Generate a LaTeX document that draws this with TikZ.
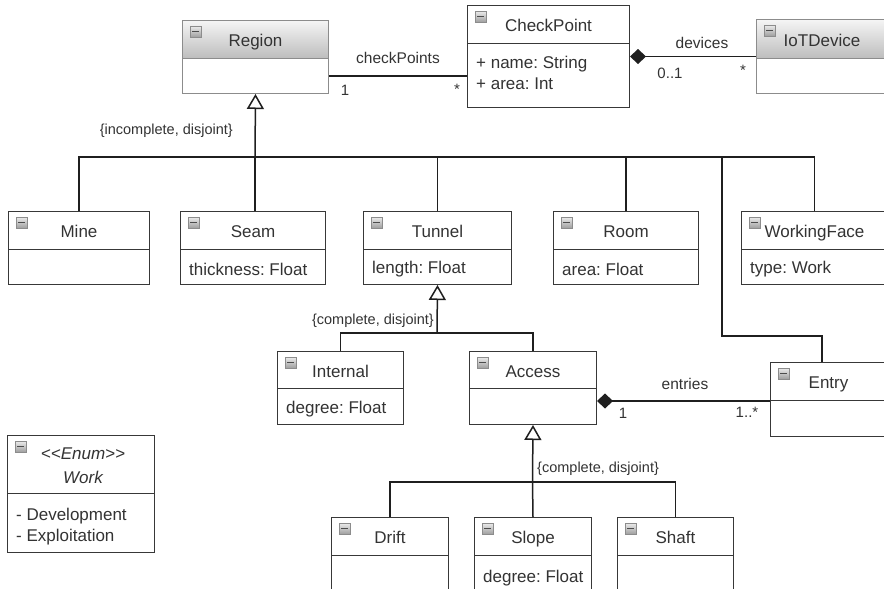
\documentclass[tikz,border=0pt]{standalone}
\usepackage{fontspec}
\setmainfont{Liberation Sans}
\usetikzlibrary{arrows.meta,calc}
\frenchspacing
\definecolor{txt}{HTML}{333333}
\newcommand\clsfont{\fontsize{17}{21}\selectfont}
\newcommand\lblfont{\fontsize{15.5}{18}\selectfont}
\newcommand\mulfont{\fontsize{15}{18}\selectfont}
\newcommand\consfont{\fontsize{14.5}{17}\selectfont}
\newcommand\bodyshift{-2.5pt}
\tikzset{
  box/.style={line width=1pt, inner sep=0pt, anchor=north west, text=txt, font=\clsfont},
  hdrgray/.style={draw=black!45, top color=black!4, bottom color=black!26},
  hdrgray body/.style={draw=black!45, fill=white},
  hdrwhite/.style={draw=black!78, fill=white},
  hdrwhite body/.style={draw=black!78, fill=white},
  bodytext/.style={anchor=west, align=left, inner sep=0pt, text=txt, font=\clsfont},
  icon/.style={anchor=north west, minimum width=11pt, minimum height=11pt, inner sep=0pt,
    draw=black!45, top color=black!8, bottom color=black!38,
    path picture={\draw[line width=1.4pt, black!70]
      ($(path picture bounding box.west)+(2pt,0)$) -- ($(path picture bounding box.east)+(-2pt,0)$);}},
  line/.style={draw=black!88, line width=1.5pt},
  gen/.style={line, -{Triangle[open, length=15pt, width=17pt, fill=white]}},
  comp/.style={line, {Diamond[length=16pt, width=15pt]}-},
  lbl/.style={text=txt, font=\lblfont, inner sep=0pt},
  mul/.style={text=txt, font=\mulfont, inner sep=0pt},
  cons/.style={text=txt, font=\consfont, inner sep=0pt},
}
% name, x1, y1, x2, ymid, y2, title, body, header style
\newcommand\umlcls[9]{%
  \pgfmathsetmacro\clsw{#4-#2}%
  \pgfmathsetmacro\clsh{#5-#3}%
  \pgfmathsetmacro\clsb{#6-#5}%
  \node[box, #9, minimum width=\clsw pt, minimum height=\clsh pt, text height=14pt, text depth=0pt] (#1) at (#2,#3) {#7};
  \node[box, #9 body, minimum width=\clsw pt, minimum height=\clsb pt] (#1b) at (#2,#5) {};
  \node[bodytext] (#1t) at ($(#1b.west)+(9pt,\bodyshift)$) {#8};
  \node[icon] (#1i) at (#2+8,#3+6) {};
}
\begin{document}
\begin{tikzpicture}[x=1pt, y=-1pt]
\clip (0,0) rectangle (884,589);
\fill[white] (0,0) rectangle (884,589);

% classes
\umlcls{region}{182}{20}{328}{58}{93}{Region}{}{hdrgray}
\renewcommand\bodyshift{2.5pt}
\umlcls{cp}{467}{5}{629}{43}{107}{CheckPoint}{+ name: String\\+ area: Int}{hdrwhite}
\renewcommand\bodyshift{-2.5pt}
\umlcls{iot}{756}{19}{887}{58}{93}{IoTDevice}{}{hdrgray}
\umlcls{mine}{8}{211}{149}{249}{284}{Mine}{}{hdrwhite}
\umlcls{seam}{180}{211}{325}{249}{284}{Seam}{thickness: Float}{hdrwhite}
\umlcls{tunnel}{363}{211}{511}{249}{284}{Tunnel}{length: Float}{hdrwhite}
\umlcls{room}{553}{211}{698}{249}{284}{Room}{area: Float}{hdrwhite}
\umlcls{wf}{741}{211}{887}{249}{284}{WorkingFace}{type: Work}{hdrwhite}
\umlcls{internal}{277}{351}{403}{388}{424}{Internal}{degree: Float}{hdrwhite}
\umlcls{access}{469}{351}{596}{388}{424}{Access}{}{hdrwhite}
\umlcls{entry}{770}{362}{886}{400}{436}{Entry}{}{hdrwhite}
\umlcls{drift}{331}{517}{448}{555}{596}{Drift}{}{hdrwhite}
\umlcls{slope}{474}{517}{591}{555}{596}{Slope}{degree: Float}{hdrwhite}
\umlcls{shaft}{617}{517}{733}{555}{596}{Shaft}{}{hdrwhite}
\renewcommand\bodyshift{-4pt}
\umlcls{enum}{7}{435}{154}{493}{552}{}{- Development\\- Exploitation}{hdrwhite}
\node[text=txt, font=\fontsize{17}{24}\selectfont\itshape, align=center, inner sep=0pt]
  (enumtitle) at ($(enum.center)+(2pt,-1pt)$) {<{}<Enum>{}>\\Work};

% generalization: Region
\coordinate (g1) at (255,157);
\draw[line] (mine.north) |- (g1);
\draw[line] (wf.north) |- (g1);
\draw[line] (seam.north -| g1) -- (g1);
\draw[line] (tunnel.north) -- (tunnel.north |- g1);
\draw[line] (room.north) -- (room.north |- g1);
\draw[gen] (g1) -- (regionb.south);
\coordinate (e1) at (722,157);
\coordinate (e2) at (822,336);
\draw[line] (e1) |- (e2) -- (e2 |- entry.north);
\node[cons, anchor=east] (c1) at (233,131) {\{incomplete, disjoint\}};

% generalization: Tunnel
\coordinate (g2) at (437,333);
\draw[line] (internal.north) |- (g2);
\draw[line] (access.north) |- (g2);
\draw[gen] (g2) -- (tunnelb.south);
\node[cons, anchor=east] (c2) at (434,321) {\{complete, disjoint\}};

% generalization: Access
\coordinate (g3) at (532.5,482);
\draw[line] (drift.north) |- (g3);
\draw[line] (shaft.north) |- (g3);
\draw[line] (slope.north) -- (g3);
\draw[gen] (g3) -- (accessb.south);
\node[cons, anchor=west] (c3) at (537,469) {\{complete, disjoint\}};

% associations
\draw[line] (regionb.east) -- (regionb.east -| cpb.west);
\node[lbl] (l1) at (398,58) {checkPoints};
\node[mul] (m1) at (345,90) {1};
\node[mul] (m2) at (457,89) {*};

\draw[comp] ($(cp.north east)!.5!(cpb.south east)$) -- ($(iot.north west)!.5!(iotb.south west)$);
\node[lbl] (l2) at (702,43) {devices};
\node[mul] (m3) at (670,73) {0..1};
\node[mul] (m4) at (743,70) {*};

\draw[comp] (entry.south west -| access.east) -- (entry.south west);
\node[lbl] (l3) at (685,384) {entries};
\node[mul] (m5) at (623,413) {1};
\node[mul] (m6) at (747,412) {1..*};
\end{tikzpicture}
\end{document}
